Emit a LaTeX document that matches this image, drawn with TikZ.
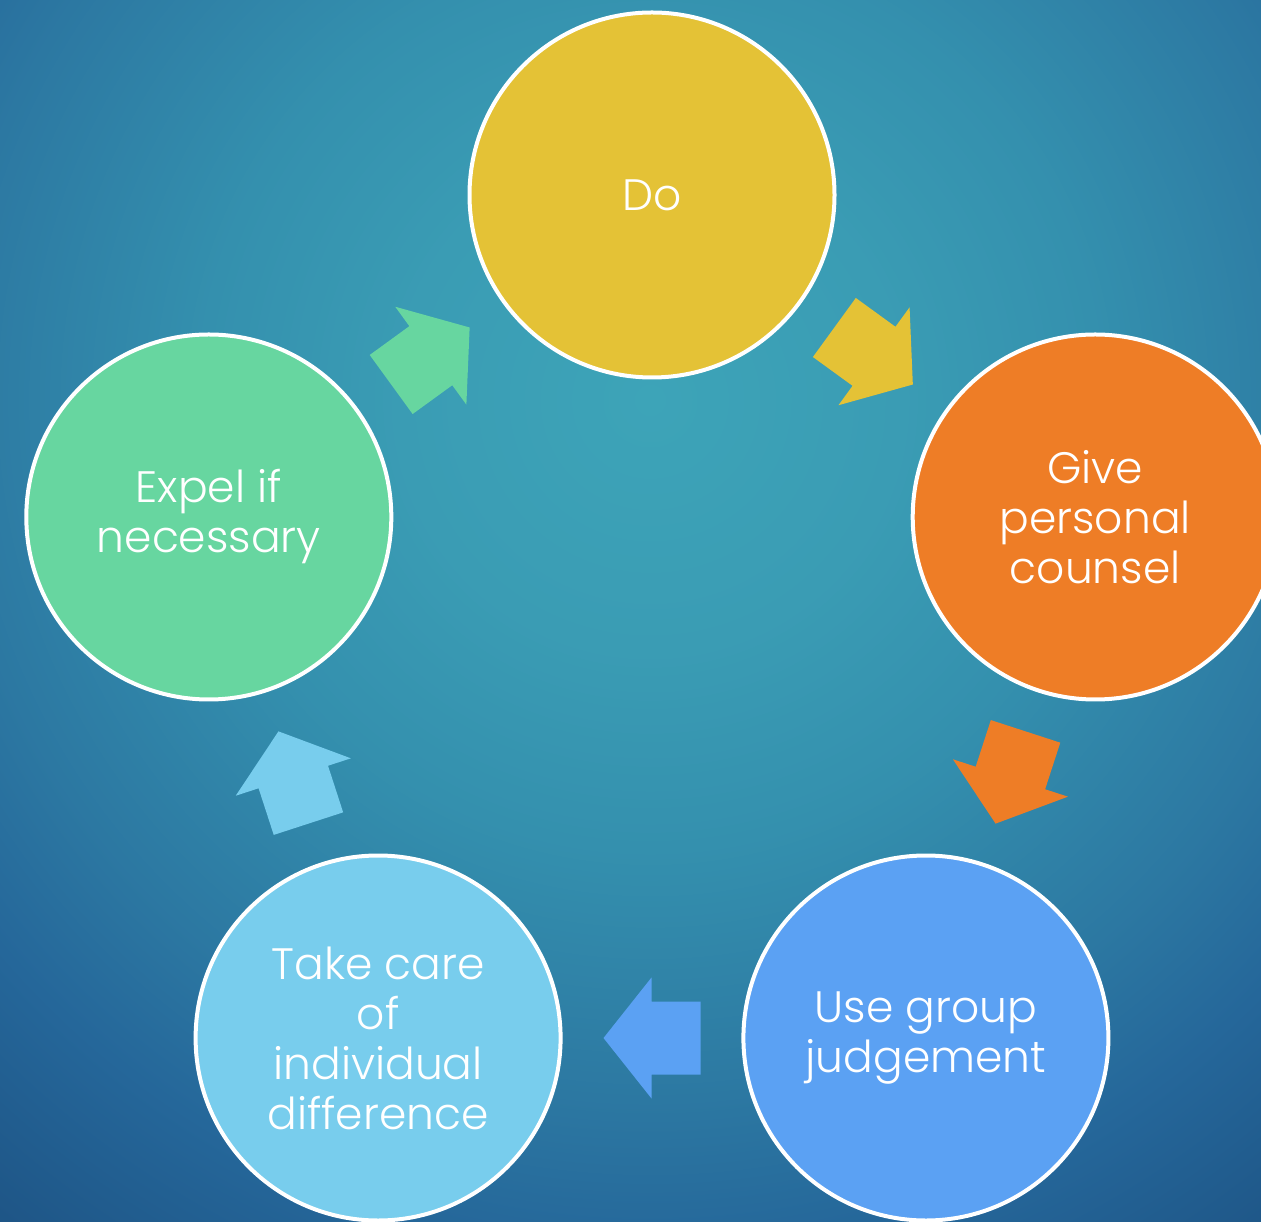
\documentclass[tikz,border=0pt]{standalone}
\usepackage{fontspec}
\setmainfont{Poppins Light}
\usetikzlibrary{calc}
\definecolor{cDo}{HTML}{E4C236}
\definecolor{cGive}{HTML}{EE7D26}
\definecolor{cUse}{HTML}{5BA1F3}
\definecolor{cTake}{HTML}{78CDED}
\definecolor{cExpel}{HTML}{67D6A0}
\definecolor{bgA}{HTML}{3DA4B8}
\definecolor{bgB}{HTML}{3A9CB4}
\definecolor{bgC}{HTML}{3490AE}
\definecolor{bgD}{HTML}{2C78A2}
\definecolor{bgE}{HTML}{25679A}
\definecolor{bgF}{HTML}{1E5586}
\pgfdeclareradialshading{bgrad}{\pgfpoint{0bp}{0bp}}{color(0bp)=(bgA); color(5.7bp)=(bgB); color(10.2bp)=(bgC); color(15.9bp)=(bgD); color(19.3bp)=(bgE); color(23.9bp)=(bgF); color(50bp)=(bgF)}
\tikzset{
  stage/.style={circle, draw=white, line width=2pt, minimum size=182.5pt, inner sep=0pt,
    text=white, align=center, font=\fontsize{22}{25}\selectfont},
  cyclearrow/.pic={
    \fill[pic actions] (-48.5,-36.5) -- (0.5,-36.5) -- (0.5,-60.5) -- (48.5,0)
      -- (0.5,60.5) -- (0.5,36.5) -- (-48.5,36.5) -- cycle;
  }
}
\begin{document}
\begin{tikzpicture}[x=0.5pt, y=0.5pt]
\useasboundingbox (0,0) rectangle (1261,1221);
\clip (0,0) rectangle (1261,1221);
\shade[shading=bgrad] (650-1100,821-1100) rectangle (650+1100,821+1100);
\coordinate (c) at (652,560);
\node[stage, fill=cDo]    (do)    at ($(c)+(90:466)$)   {Do};
\node[stage, fill=cGive]  (give)  at ($(c)+(18:466)$)   {Give\\personal\\counsel};
\node[stage, fill=cUse]   (use)   at ($(c)+(-54:466)$)  {Use group\\judgement};
\node[stage, fill=cTake]  (take)  at ($(c)+(-126:466)$) {Take care\\of\\individual\\difference};
\node[stage, fill=cExpel] (expel) at ($(c)+(162:466)$)  {Expel if\\necessary};
\pic[fill=cDo]    (a1) at ($(c)+(54:377)$)   [rotate=-36]  {cyclearrow};
\pic[fill=cGive]  (a2) at ($(c)+(-18:377)$)  [rotate=-108] {cyclearrow};
\pic[fill=cUse]   (a3) at ($(c)+(-90:377)$)  [rotate=180]  {cyclearrow};
\pic[fill=cTake]  (a4) at ($(c)+(-162:377)$) [rotate=108]  {cyclearrow};
\pic[fill=cExpel] (a5) at ($(c)+(126:377)$)  [rotate=36]   {cyclearrow};
\end{tikzpicture}
\end{document}
